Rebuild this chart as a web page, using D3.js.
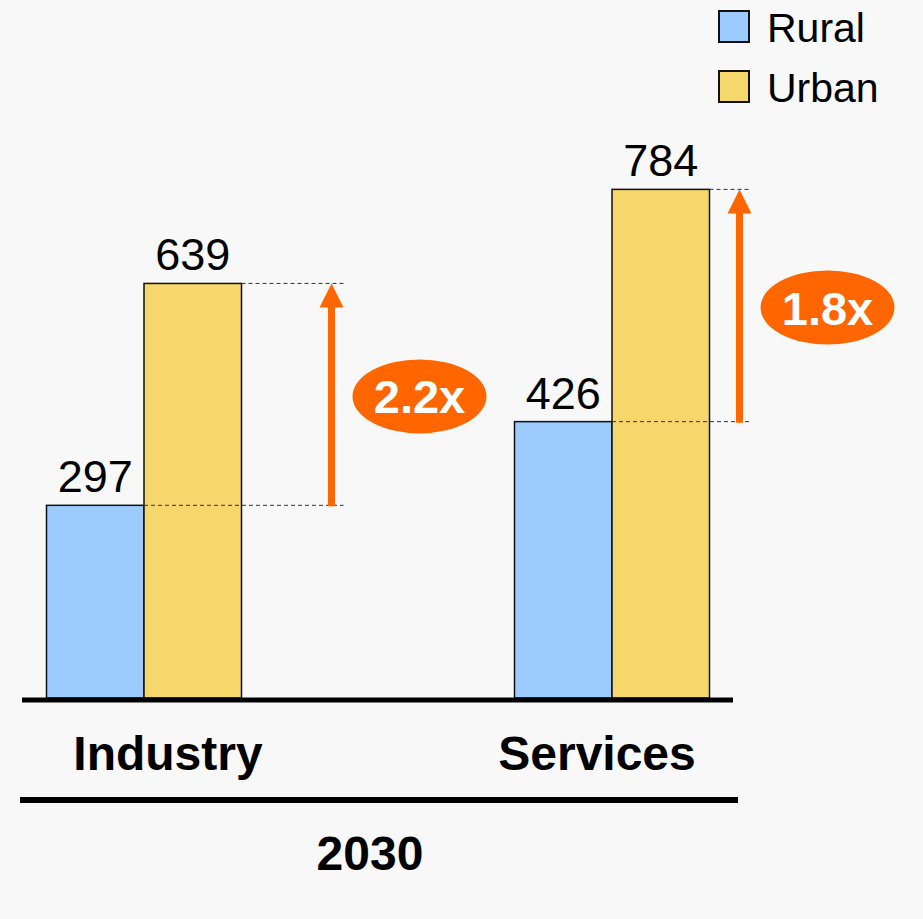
<!DOCTYPE html>
<meta charset="utf-8">
<style>
body { margin: 0; background: #f8f8f8; }
text { font-family: "Liberation Sans", Arial, sans-serif; }
.value { font-size: 45px; text-anchor: middle; }
.cat { font-size: 48px; font-weight: bold; text-anchor: middle; }
.legend { font-size: 41px; }
.ratio { font-size: 47px; font-weight: bold; fill: #fff; text-anchor: middle; }
.guide { stroke: #333; stroke-width: 1; stroke-dasharray: 4,3; }
</style>
<body>
<script src="https://cdn.jsdelivr.net/npm/d3@7"></script>
<script>

// data
var categories = ["Industry", "Services"];
var series = ["Rural", "Urban"];
var rural = [297, 426];
var urban = [639, 784];
var period = "2030";

var colors = {Rural: "#9ccbff", Urban: "#f6d76b"};
var orange = "#ff6600";

var width = 923, height = 919;

var svg = d3.select("body").append("svg")
    .attr("width", width)
    .attr("height", height);

// scales
var x = d3.scalePoint().domain(categories).range([144, 612]);
var xs = d3.scaleBand().domain(series).range([-97.5, 97.5]);
var y = d3.scaleLinear().domain([0, 800]).range([698, 179]);

var rows = categories.map(function(c, i) {
  return {cat: c, Rural: rural[i], Urban: urban[i]};
});

// bars
var groups = svg.selectAll(".group")
    .data(rows)
  .enter().append("g")
    .attr("transform", function(d) { return "translate(" + x(d.cat) + ",0)"; });

groups.selectAll("rect")
    .data(function(d) { return series.map(function(s) { return {s: s, v: d[s]}; }); })
  .enter().append("rect")
    .attr("x", function(d) { return xs(d.s); })
    .attr("width", xs.bandwidth())
    .attr("y", function(d) { return y(d.v); })
    .attr("height", function(d) { return y(0) - y(d.v); })
    .style("fill", function(d) { return colors[d.s]; })
    .style("stroke", "#111")
    .style("stroke-width", 1.5);

groups.selectAll(".value")
    .data(function(d) { return series.map(function(s) { return {s: s, v: d[s]}; }); })
  .enter().append("text")
    .attr("class", "value")
    .attr("x", function(d) { return xs(d.s) + xs.bandwidth() / 2; })
    .attr("y", function(d) { return y(d.v) - 13; })
    .text(function(d) { return d.v; });

// growth arrows and ratio bubbles
var arrowGap = [90, 30]; // distance from urban bar's right edge
rows.forEach(function(d, i) {
  var right = x(d.cat) + xs.range()[1];
  var ax = right + arrowGap[i];
  var yTop = y(d.Urban), yBot = y(d.Rural);

  svg.append("line").attr("class", "guide")
      .attr("x1", right).attr("x2", ax + 12)
      .attr("y1", yTop).attr("y2", yTop);
  svg.append("line").attr("class", "guide")
      .attr("x1", x(d.cat)).attr("x2", ax + 12)
      .attr("y1", yBot).attr("y2", yBot);

  svg.append("line")
      .attr("x1", ax).attr("x2", ax)
      .attr("y1", yBot + 1).attr("y2", yTop + 20)
      .style("stroke", orange).style("stroke-width", 7);
  svg.append("path")
      .attr("d", "M" + ax + "," + yTop + "L" + (ax + 12) + "," + (yTop + 24) +
                 "L" + (ax - 12) + "," + (yTop + 24) + "Z")
      .style("fill", orange);

  var cy = (yTop + yBot) / 2 + 2;
  svg.append("ellipse")
      .attr("cx", ax + 88).attr("cy", cy)
      .attr("rx", 67).attr("ry", 37)
      .style("fill", orange);
  svg.append("text").attr("class", "ratio")
      .attr("x", ax + 88).attr("y", cy + 17)
      .text((d.Urban / d.Rural).toFixed(1) + "x");
});

// baseline and category axis
svg.append("line")
    .attr("x1", 22).attr("x2", 733)
    .attr("y1", y(0) + 2).attr("y2", y(0) + 2)
    .style("stroke", "#000").style("stroke-width", 5);

var labelNudge = [24, -15];
svg.selectAll(".cat")
    .data(categories)
  .enter().append("text")
    .attr("class", "cat")
    .attr("x", function(d, i) { return x(d) + labelNudge[i]; })
    .attr("y", 770)
    .text(function(d) { return d; });

svg.append("line")
    .attr("x1", 20).attr("x2", 738)
    .attr("y1", 800).attr("y2", 800)
    .style("stroke", "#000").style("stroke-width", 6);

svg.append("text")
    .attr("class", "cat")
    .attr("x", 370).attr("y", 870)
    .text(period);

// legend
var legend = svg.selectAll(".leg")
    .data(series)
  .enter().append("g")
    .attr("transform", function(d, i) { return "translate(719," + (11 + i * 60) + ")"; });

legend.append("rect")
    .attr("width", 30).attr("height", 31)
    .style("fill", function(d) { return colors[d]; })
    .style("stroke", "#111").style("stroke-width", 2);

legend.append("text")
    .attr("class", "legend")
    .attr("x", 48).attr("y", 31)
    .text(function(d) { return d; });

</script>
</body>
